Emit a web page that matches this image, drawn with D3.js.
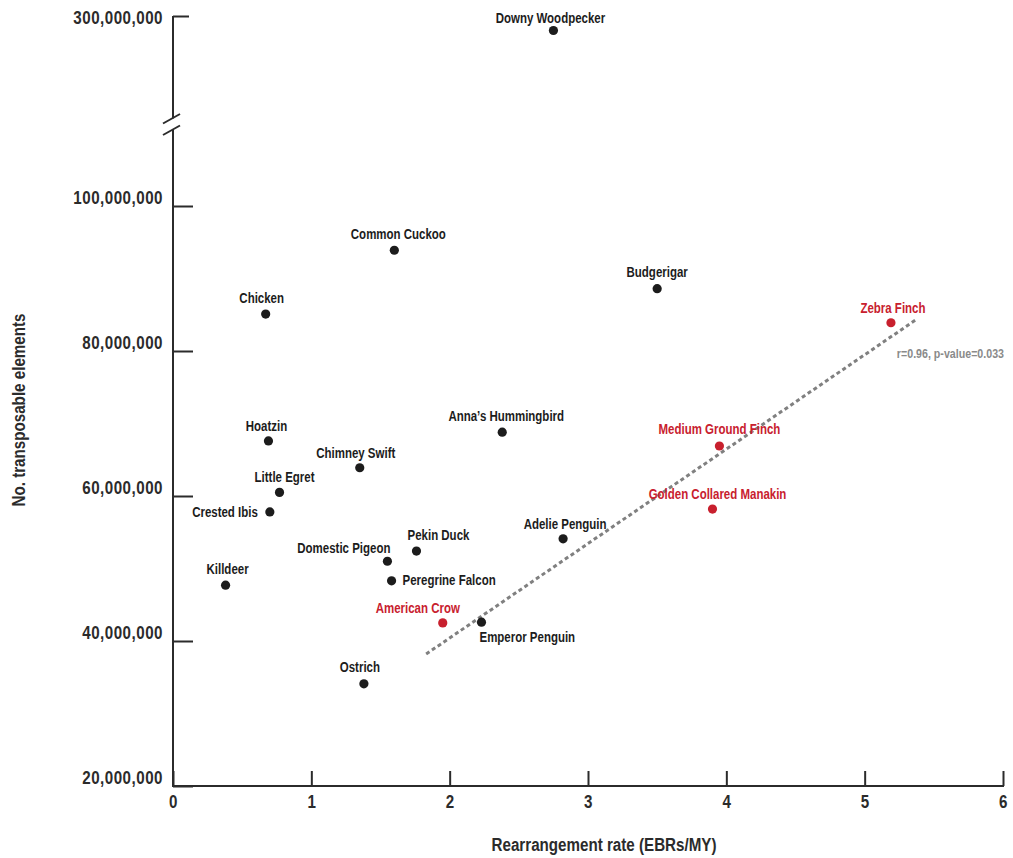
<!DOCTYPE html>
<html>
<head>
<meta charset="utf-8">
<script src="https://cdn.jsdelivr.net/npm/d3@7"></script>
<style>
  html, body { margin: 0; padding: 0; background: #fff; }
  svg { display: block; }
  text { font-family: "Liberation Sans", Arial, sans-serif; font-weight: bold; }
</style>
</head>
<body>
<svg id="chart" width="1013" height="858"></svg>
<script>
// Species, rearrangement rate (EBRs/MY) and number of transposable elements
const species = [
  "Downy Woodpecker", "Common Cuckoo", "Budgerigar", "Chicken", "Zebra Finch",
  "Anna’s Hummingbird", "Hoatzin", "Medium Ground Finch", "Chimney Swift", "Little Egret",
  "Golden Collared Manakin", "Crested Ibis", "Adelie Penguin", "Pekin Duck", "Domestic Pigeon",
  "Peregrine Falcon", "Killdeer", "American Crow", "Emperor Penguin", "Ostrich"
];
const rearrangementRate = [
  2.75, 1.60, 3.50, 0.67, 5.19,
  2.38, 0.69, 3.95, 1.35, 0.77,
  3.90, 0.70, 2.82, 1.76, 1.55,
  1.58, 0.38, 1.95, 2.23, 1.38
];
const transposableElements = [
  298.0e6, 93.9e6, 88.6e6, 85.1e6, 83.9e6,
  68.8e6, 67.6e6, 66.9e6, 63.9e6, 60.5e6,
  58.2e6, 57.8e6, 54.1e6, 52.4e6, 51.0e6,
  48.3e6, 47.7e6, 42.5e6, 42.6e6, 34.1e6
];
// Passerines highlighted in red (used for the correlation)
const passerines = ["Zebra Finch", "Medium Ground Finch", "Golden Collared Manakin", "American Crow"];

// Fitted trend for the passerines
const trendRate = [1.83, 5.37];
const trendTE = [38.2e6, 84.3e6];
const trendLabel = "r=0.96, p-value=0.033";

// Axis ticks
const xTicks = [0, 1, 2, 3, 4, 5, 6];
const yTicksLower = [20e6, 40e6, 60e6, 80e6, 100e6];
const yTicksUpper = [300e6];

// Label placement relative to each dot: [dx, dy, anchor]
const labelPlacement = {
  "Downy Woodpecker": [-3, -8, "middle"],
  "Common Cuckoo": [4, -11, "middle"],
  "Budgerigar": [0, -12, "middle"],
  "Chicken": [-4, -11, "middle"],
  "Zebra Finch": [2, -10, "middle"],
  "Anna’s Hummingbird": [4, -11, "middle"],
  "Hoatzin": [-2, -10, "middle"],
  "Medium Ground Finch": [0, -12, "middle"],
  "Chimney Swift": [-4, -10, "middle"],
  "Little Egret": [5, -10, "middle"],
  "Golden Collared Manakin": [5, -10, "middle"],
  "Crested Ibis": [-12, 5, "end"],
  "Adelie Penguin": [2, -10, "middle"],
  "Pekin Duck": [22, -11, "middle"],
  "Domestic Pigeon": [3, -8, "end"],
  "Peregrine Falcon": [11, 4, "start"],
  "Killdeer": [2, -11, "middle"],
  "American Crow": [-25, -10, "middle"],
  "Emperor Penguin": [-2, 20, "start"],
  "Ostrich": [-4, -12, "middle"]
};

const svg = d3.select("#chart");
const axisColor = "#2b2b2b";
const red = "#c8202e";
const dark = "#1c1c1c";
const narrow = 0.82; // horizontal squeeze giving a condensed face

const x = d3.scaleLinear().domain([0, 6]).range([173, 1003]);
// Broken y axis: lower segment 20M–100M, upper segment around 300M at the same density
const yLower = d3.scaleLinear().domain([20e6, 100e6]).range([786, 206]);
const pxPerUnit = (786 - 206) / 80e6;
const yUpper = d3.scaleLinear().domain([280e6, 300e6]).range([16 + 20e6 * pxPerUnit, 16]);
const yPos = v => v > 150e6 ? yUpper(v) : yLower(v);

const data = species.map((name, i) => ({
  name, rate: rearrangementRate[i], te: transposableElements[i],
  passerine: passerines.includes(name)
}));

// Places a condensed text at (px, py)
function placeText(sel, px, py) {
  sel.attr("x", 0).attr("y", 0)
    .attr("transform", (d, i, n) => `translate(${px(d, i, n)},${py(d, i, n)}) scale(${narrow},1)`);
}

// Axis lines with a break
const axisG = svg.append("g").attr("stroke", axisColor).attr("stroke-width", 2).attr("fill", "none");
axisG.append("line").attr("x1", x(0)).attr("x2", x(0)).attr("y1", yUpper(300e6)).attr("y2", 118.5);
axisG.append("line").attr("x1", x(0)).attr("x2", x(0)).attr("y1", 129.5).attr("y2", yLower(20e6) + 1);
axisG.append("line").attr("x1", x(0) - 1).attr("x2", x(6) + 1).attr("y1", yLower(20e6)).attr("y2", yLower(20e6));
// Break marks
axisG.append("line").attr("x1", x(0) - 10).attr("y1", 123.5).attr("x2", x(0) + 7).attr("y2", 114);
axisG.append("line").attr("x1", x(0) - 10).attr("y1", 135).attr("x2", x(0) + 7).attr("y2", 125.5);

const fmt = d3.format(",");

function styleAxis(g) {
  g.select(".domain").remove();
  g.selectAll(".tick line").attr("stroke", axisColor).attr("stroke-width", 2);
  g.selectAll(".tick text").attr("fill", "#2b2b2b").attr("font-size", 18.5)
    .attr("font-family", null).attr("letter-spacing", 0.6)
    .attr("x", function() { return (+this.getAttribute("x") || 0) / narrow; })
    .attr("transform", `scale(${narrow},1)`);
}

svg.append("g").attr("transform", `translate(${x(0)},0)`)
  .call(d3.axisLeft(yLower).tickValues(yTicksLower).tickFormat(fmt).tickSizeInner(-20).tickSizeOuter(0).tickPadding(10))
  .call(styleAxis)
  .call(g => g.selectAll(".tick text").attr("dy", "-0.12em"));

svg.append("g").attr("transform", `translate(${x(0)},0)`)
  .call(d3.axisLeft(yUpper).tickValues(yTicksUpper).tickFormat(fmt).tickSizeInner(-16).tickSizeOuter(0).tickPadding(10))
  .call(styleAxis)
  .call(g => g.selectAll(".tick text").attr("dy", "0.38em"));

svg.append("g").attr("transform", `translate(0,${yLower(20e6)})`)
  .call(d3.axisBottom(x).tickValues(xTicks).tickFormat(d3.format("d")).tickSizeInner(-15).tickSizeOuter(0).tickPadding(9))
  .call(styleAxis);

// Axis titles
svg.append("text").attr("text-anchor", "middle").attr("font-size", 18.5).attr("fill", "#2b2b2b")
  .text("Rearrangement rate (EBRs/MY)")
  .attr("transform", `translate(604,851) scale(${narrow},1)`);
svg.append("text").attr("text-anchor", "middle").attr("font-size", 18.5).attr("fill", "#2b2b2b")
  .text("No. transposable elements")
  .attr("transform", `translate(25,410) rotate(-90) scale(${narrow},1)`);

// Trend line
svg.append("line")
  .attr("x1", x(trendRate[0])).attr("y1", yLower(trendTE[0]))
  .attr("x2", x(trendRate[1])).attr("y2", yLower(trendTE[1]))
  .attr("stroke", "#808080").attr("stroke-width", 3).attr("stroke-dasharray", "4,3");
svg.append("text").attr("text-anchor", "end").attr("font-size", 13).attr("fill", "#8a8a8a")
  .text(trendLabel)
  .attr("transform", `translate(1004,358) scale(${narrow},1)`);

// Points
svg.append("g").selectAll("circle").data(data).join("circle")
  .attr("cx", d => x(d.rate)).attr("cy", d => yPos(d.te)).attr("r", 4.6)
  .attr("fill", d => d.passerine ? red : dark);

// Labels
svg.append("g").selectAll("text").data(data).join("text")
  .attr("text-anchor", d => labelPlacement[d.name][2])
  .attr("font-size", 14)
  .attr("fill", d => d.passerine ? red : dark)
  .text(d => d.name)
  .call(placeText, d => x(d.rate) + labelPlacement[d.name][0], d => yPos(d.te) + labelPlacement[d.name][1]);
</script>
</body>
</html>
